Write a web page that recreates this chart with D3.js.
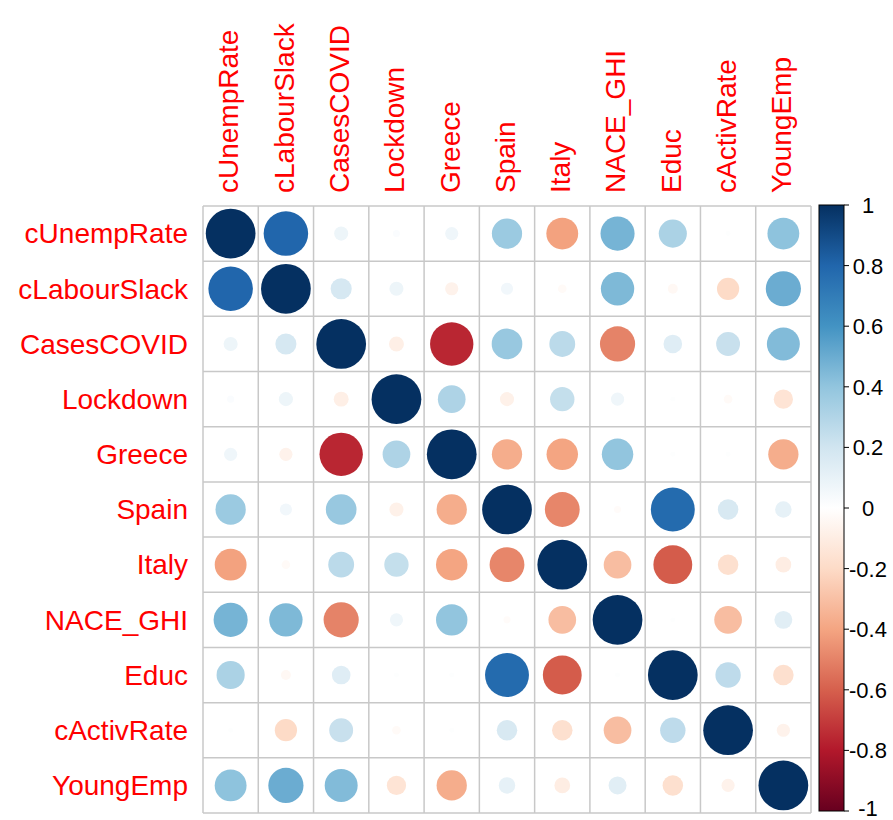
<!DOCTYPE html>
<html>
<head>
<meta charset="utf-8">
<script src="https://cdn.jsdelivr.net/npm/d3@7.9.0/dist/d3.min.js"></script>
<style>
  body { margin: 0; background: #fff; }
  svg { display: block; font-family: "Liberation Sans", Arial, sans-serif; }
</style>
</head>
<body>
<svg width="893" height="820"></svg>
<script>
const vars = ['cUnempRate', 'cLabourSlack', 'CasesCOVID', 'Lockdown', 'Greece', 'Spain',
              'Italy', 'NACE_GHI', 'Educ', 'cActivRate', 'YoungEmp'];

// correlation matrix, one row per variable
const corr = [
  [ 1.00,  0.80,  0.08,  0.02,  0.07,  0.37, -0.41,  0.47,  0.32,  0.01,  0.41],
  [ 0.80,  1.00,  0.18,  0.08, -0.07,  0.06, -0.03,  0.45, -0.04, -0.20,  0.50],
  [ 0.08,  0.18,  1.00, -0.09, -0.76,  0.38,  0.27, -0.50,  0.14,  0.23,  0.44],
  [ 0.02,  0.08, -0.09,  1.00,  0.31, -0.08,  0.24,  0.07,  0.01, -0.03, -0.15],
  [ 0.07, -0.07, -0.76,  0.31,  1.00, -0.37, -0.40,  0.40,  0.01,  0.01, -0.37],
  [ 0.37,  0.06,  0.38, -0.08, -0.37,  1.00, -0.49, -0.02,  0.78,  0.17,  0.11],
  [-0.41, -0.03,  0.27,  0.24, -0.40, -0.49,  1.00, -0.31, -0.61, -0.17, -0.10],
  [ 0.47,  0.45, -0.50,  0.07,  0.40, -0.02, -0.31,  1.00,  0.01, -0.31,  0.13],
  [ 0.32, -0.04,  0.14,  0.01,  0.01,  0.78, -0.61,  0.01,  1.00,  0.26, -0.17],
  [ 0.01, -0.20,  0.23, -0.03,  0.01,  0.17, -0.17, -0.31,  0.26,  1.00, -0.07],
  [ 0.41,  0.50,  0.44, -0.15, -0.37,  0.11, -0.10,  0.13, -0.17, -0.07,  1.00]
];

const palette = ['#67001F', '#B2182B', '#D6604D', '#F4A582', '#FDDBC7', '#FFFFFF',
                 '#D1E5F0', '#92C5DE', '#4393C3', '#2166AC', '#053061'];
const legendTicks = [1, 0.8, 0.6, 0.4, 0.2, 0, -0.2, -0.4, -0.6, -0.8, -1];

const svg = d3.select('svg');

let x = d3.scaleBand().domain(vars).range([203, 811]);
let y = d3.scaleBand().domain(vars).range([206, 813]);
let color = d3.scaleLinear()
    .domain(d3.range(palette.length).map(i => -1 + 2 * i / (palette.length - 1)))
    .range(palette);

let cells = [];
corr.forEach((row, i) => {
    row.forEach((v, j) => cells.push({row: vars[i], col: vars[j], value: v}));
});

// grid
let grid = svg.append('g').attr('stroke', '#c8c8c8').attr('stroke-width', 1.5);
vars.concat(['__end']).forEach((v, i) => {
    let gx = i < vars.length ? x(v) : x.range()[1];
    let gy = i < vars.length ? y(v) : y.range()[1];
    grid.append('line').attr('x1', gx).attr('x2', gx).attr('y1', y.range()[0]).attr('y2', y.range()[1]);
    grid.append('line').attr('y1', gy).attr('y2', gy).attr('x1', x.range()[0]).attr('x2', x.range()[1]);
});

// circles: area proportional to |r|
svg.append('g')
    .selectAll('circle')
    .data(cells)
    .join('circle')
    .attr('cx', d => x(d.col) + x.bandwidth() / 2)
    .attr('cy', d => y(d.row) + y.bandwidth() / 2)
    .attr('r', d => 0.45 * x.bandwidth() * Math.sqrt(Math.abs(d.value)))
    .attr('fill', d => color(d.value));

// row labels
const fs = 28;
svg.append('g')
    .selectAll('text')
    .data(vars)
    .join('text')
    .attr('x', 188)
    .attr('y', d => y(d) + y.bandwidth() / 2 + fs * 0.35)
    .attr('text-anchor', 'end')
    .attr('font-size', fs)
    .attr('fill', '#ff0000')
    .text(d => d);

// column labels, rotated
svg.append('g')
    .selectAll('text')
    .data(vars)
    .join('text')
    .attr('transform', d => `translate(${x(d) + x.bandwidth() / 2 + fs * 0.28},193) rotate(-90)`)
    .attr('font-size', fs)
    .attr('fill', '#ff0000')
    .text(d => d);

// colour legend
let ly = d3.scaleLinear().domain([1, -1]).range([205, 811]);
let grad = svg.append('defs').append('linearGradient')
    .attr('id', 'cbar').attr('x1', 0).attr('x2', 0).attr('y1', 1).attr('y2', 0);
palette.forEach((c, i) => {
    grad.append('stop').attr('offset', i / (palette.length - 1)).attr('stop-color', c);
});
svg.append('rect')
    .attr('x', 819).attr('y', ly(1))
    .attr('width', 25).attr('height', ly(-1) - ly(1))
    .attr('fill', 'url(#cbar)')
    .attr('stroke', '#000').attr('stroke-width', 1);

let tickG = svg.append('g');
tickG.selectAll('line')
    .data(legendTicks)
    .join('line')
    .attr('x1', 844).attr('x2', 849)
    .attr('y1', d => ly(d)).attr('y2', d => ly(d))
    .attr('stroke', '#000');
tickG.selectAll('text')
    .data(legendTicks)
    .join('text')
    .attr('x', 868)
    .attr('y', d => Math.min(ly(d) + 8, 816))
    .attr('text-anchor', 'middle')
    .attr('font-size', 22)
    .attr('fill', '#000')
    .text(d => d);
</script>
</body>
</html>
